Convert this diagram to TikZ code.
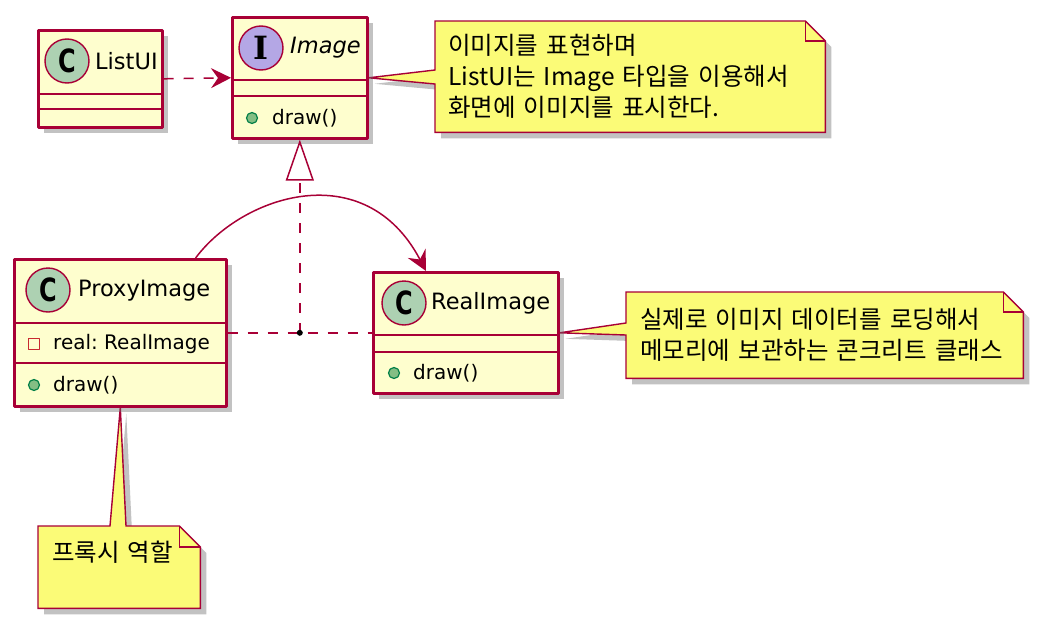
\documentclass[tikz,border=0pt]{standalone}
\usepackage{fontspec}
\setmainfont{DejaVu Sans}
\newfontfamily\kofont{Noto Sans CJK KR}
\newfontfamily\slabfont{DejaVu Serif}
\usetikzlibrary{calc, arrows.meta, shadows, backgrounds}
\frenchspacing

\begin{document}
\begin{tikzpicture}[x=1pt, y=-1pt, line join=round,
    classbox/.style={draw=umlred, fill=classfill, line width=2.6pt, inner sep=0pt, anchor=north west,
        drop shadow={shadow xshift=6pt, shadow yshift=-6pt, opacity=0.4, fill=black!60}},
    sepline/.style={draw=umlred, line width=2.6pt},
    classicon/.style={circle, draw=umlred, line width=1.4pt, minimum size=44pt, inner sep=0pt},
    classname/.style={anchor=west, inner sep=0pt, font=\fontsize{22.5}{26}\selectfont},
    member/.style={anchor=west, inner sep=0pt, font=\fontsize{20}{24}\selectfont},
    pubdot/.style={circle, draw=pubgreen, fill=pubfill, line width=1.2pt, minimum size=11pt, inner sep=0pt},
    privbox/.style={rectangle, draw=privred, line width=1.2pt, minimum size=11pt, inner sep=0pt},
    notebody/.style={anchor=north west, align=left, inner ysep=0pt, font=\kofont\fontsize{24.5}{31}\selectfont},
    notebox/.style={draw=umlred, fill=notefill, line width=1.4pt,
        drop shadow={shadow xshift=6pt, shadow yshift=-6pt, opacity=0.4, fill=black!60}},
    foldline/.style={draw=umlred, line width=1.4pt},
    link/.style={umlred, line width=1.5pt},
    dashlink/.style={link, dash pattern=on 10pt off 10pt},
    headtip/.style={-{Stealth[length=20pt, width=20pt, inset=7pt]}}]

    % Màu PlantUML
    \definecolor{umlred}{HTML}{A80036}
    \definecolor{classfill}{HTML}{FEFECE}
    \definecolor{notefill}{HTML}{FBFB77}
    \definecolor{cfill}{HTML}{ADD1B2}
    \definecolor{ifill}{HTML}{B4A7E5}
    \definecolor{pubgreen}{HTML}{038048}
    \definecolor{pubfill}{HTML}{84BE84}
    \definecolor{privred}{HTML}{C82930}

    \useasboundingbox (0,0) rectangle (1044,629);

    % 1. ListUI
    \node[classbox, minimum width=124pt, minimum height=97pt] (listui) at (37,29) {};
    \draw[sepline] ($(listui.north west)+(0,65)$) -- ($(listui.north east)+(0,65)$);
    \draw[sepline] ($(listui.north west)+(0,80)$) -- ($(listui.north east)+(0,80)$);
    \node[classicon, fill=cfill] at ($(listui.north west)+(30,32)$)
        {\bfseries\fontsize{32}{32}\selectfont\scalebox{0.75}[1]{C}};
    \node[classname] at ($(listui.north west)+(58,32)$) {ListUI};

    % 2. Image (interface)
    \node[classbox, minimum width=135pt, minimum height=121pt] (image) at (231,16) {};
    \draw[sepline] ($(image.north west)+(0,64)$) -- ($(image.north east)+(0,64)$);
    \draw[sepline] ($(image.north west)+(0,80)$) -- ($(image.north east)+(0,80)$);
    \node[classicon, fill=ifill] at ($(image.north west)+(30,32)$)
        {\slabfont\bfseries\fontsize{32}{32}\selectfont I};
    \node[classname] at ($(image.north west)+(59,32)$) {\itshape Image};
    \node[pubdot] at ($(image.north west)+(21,102)$) {};
    \node[member] at ($(image.north west)+(41,102)$) {draw()};

    % 3. ProxyImage
    \node[classbox, minimum width=212pt, minimum height=147pt] (proxy) at (13,258) {};
    \draw[sepline] ($(proxy.north west)+(0,65)$) -- ($(proxy.north east)+(0,65)$);
    \draw[sepline] ($(proxy.north west)+(0,105)$) -- ($(proxy.north east)+(0,105)$);
    \node[classicon, fill=cfill] at ($(proxy.north west)+(35,32)$)
        {\bfseries\fontsize{32}{32}\selectfont\scalebox{0.75}[1]{C}};
    \node[classname] at ($(proxy.north west)+(65,33)$) {ProxyImage};
    \node[privbox] at ($(proxy.north west)+(21,86)$) {};
    \node[member] at ($(proxy.north west)+(40,86)$) {real: RealImage};
    \node[pubdot] at ($(proxy.north west)+(21,127)$) {};
    \node[member] at ($(proxy.north west)+(40,127)$) {draw()};

    % 4. RealImage
    \node[classbox, minimum width=185pt, minimum height=121pt] (real) at (372,271) {};
    \draw[sepline] ($(real.north west)+(0,64)$) -- ($(real.north east)+(0,64)$);
    \draw[sepline] ($(real.north west)+(0,81)$) -- ($(real.north east)+(0,81)$);
    \node[classicon, fill=cfill] at ($(real.north west)+(32,32)$)
        {\bfseries\fontsize{32}{32}\selectfont\scalebox{0.75}[1]{C}};
    \node[classname] at ($(real.north west)+(59,32)$) {RealImage};
    \node[pubdot] at ($(real.north west)+(22,102)$) {};
    \node[member] at ($(real.north west)+(41,102)$) {draw()};

    % 5. Quan hệ
    \draw[dashlink, headtip] (listui.east) -- (image.west);
    \coordinate (junc) at (image.south |- proxy.east);
    \draw[dashlink] (proxy.east) -- (real.west);
    \draw[dashlink, -{Triangle[open, length=41pt, width=28pt, fill=white]}] (junc) -- (image.south);
    \fill (junc) circle (3);
    \draw[link, headtip] ($(proxy.north east)+(-32,0)$)
        .. controls +(47,-63) and +(-61,-116) .. ($(real.north west)+(54,0)$);

    % 6. Ghi chú
    \node[notebody, minimum width=390pt, minimum height=111pt, text width=364pt, inner xsep=13pt] (note1) at (435,21)
        {이미지를 표현하며\\ListUI는 Image 타입을 이용해서\\화면에 이미지를 표시한다.};
    \node[notebody, minimum width=397pt, minimum height=86pt, text width=369pt, inner xsep=14pt] (note2) at (626,292)
        {실제로 이미지 데이터를 로딩해서\\메모리에 보관하는 콘크리트 클래스};
    \node[notebody, minimum width=162pt, minimum height=82pt, text width=134pt, inner xsep=14pt] (note3) at (38,526)
        {프록시 역할\\\mbox{}};

    \begin{scope}[on background layer]
        \filldraw[notebox] (note1.north west) -- ($(note1.north east)+(-20,0)$) -- ($(note1.north east)+(0,20)$)
            -- (note1.south east) -- (note1.south west) -- ($(note1.north west)+(0,63)$)
            -- (image.east) -- ($(note1.north west)+(0,49)$) -- cycle;
        \draw[foldline] ($(note1.north east)+(-20,0)$) |- ($(note1.north east)+(0,20)$);

        \filldraw[notebox] (note2.north west) -- ($(note2.north east)+(-20,0)$) -- ($(note2.north east)+(0,20)$)
            -- (note2.south east) -- (note2.south west) -- ($(note2.north west)+(0,43)$)
            -- (real.east) -- ($(note2.north west)+(0,31)$) -- cycle;
        \draw[foldline] ($(note2.north east)+(-20,0)$) |- ($(note2.north east)+(0,20)$);

        \filldraw[notebox] (note3.north west) -- ($(note3.north west)+(72,0)$) -- (proxy.south)
            -- ($(note3.north west)+(88,0)$) -- ($(note3.north east)+(-21,0)$) -- ($(note3.north east)+(0,21)$)
            -- (note3.south east) -- (note3.south west) -- cycle;
        \draw[foldline] ($(note3.north east)+(-21,0)$) |- ($(note3.north east)+(0,21)$);
    \end{scope}
\end{tikzpicture}
\end{document}
